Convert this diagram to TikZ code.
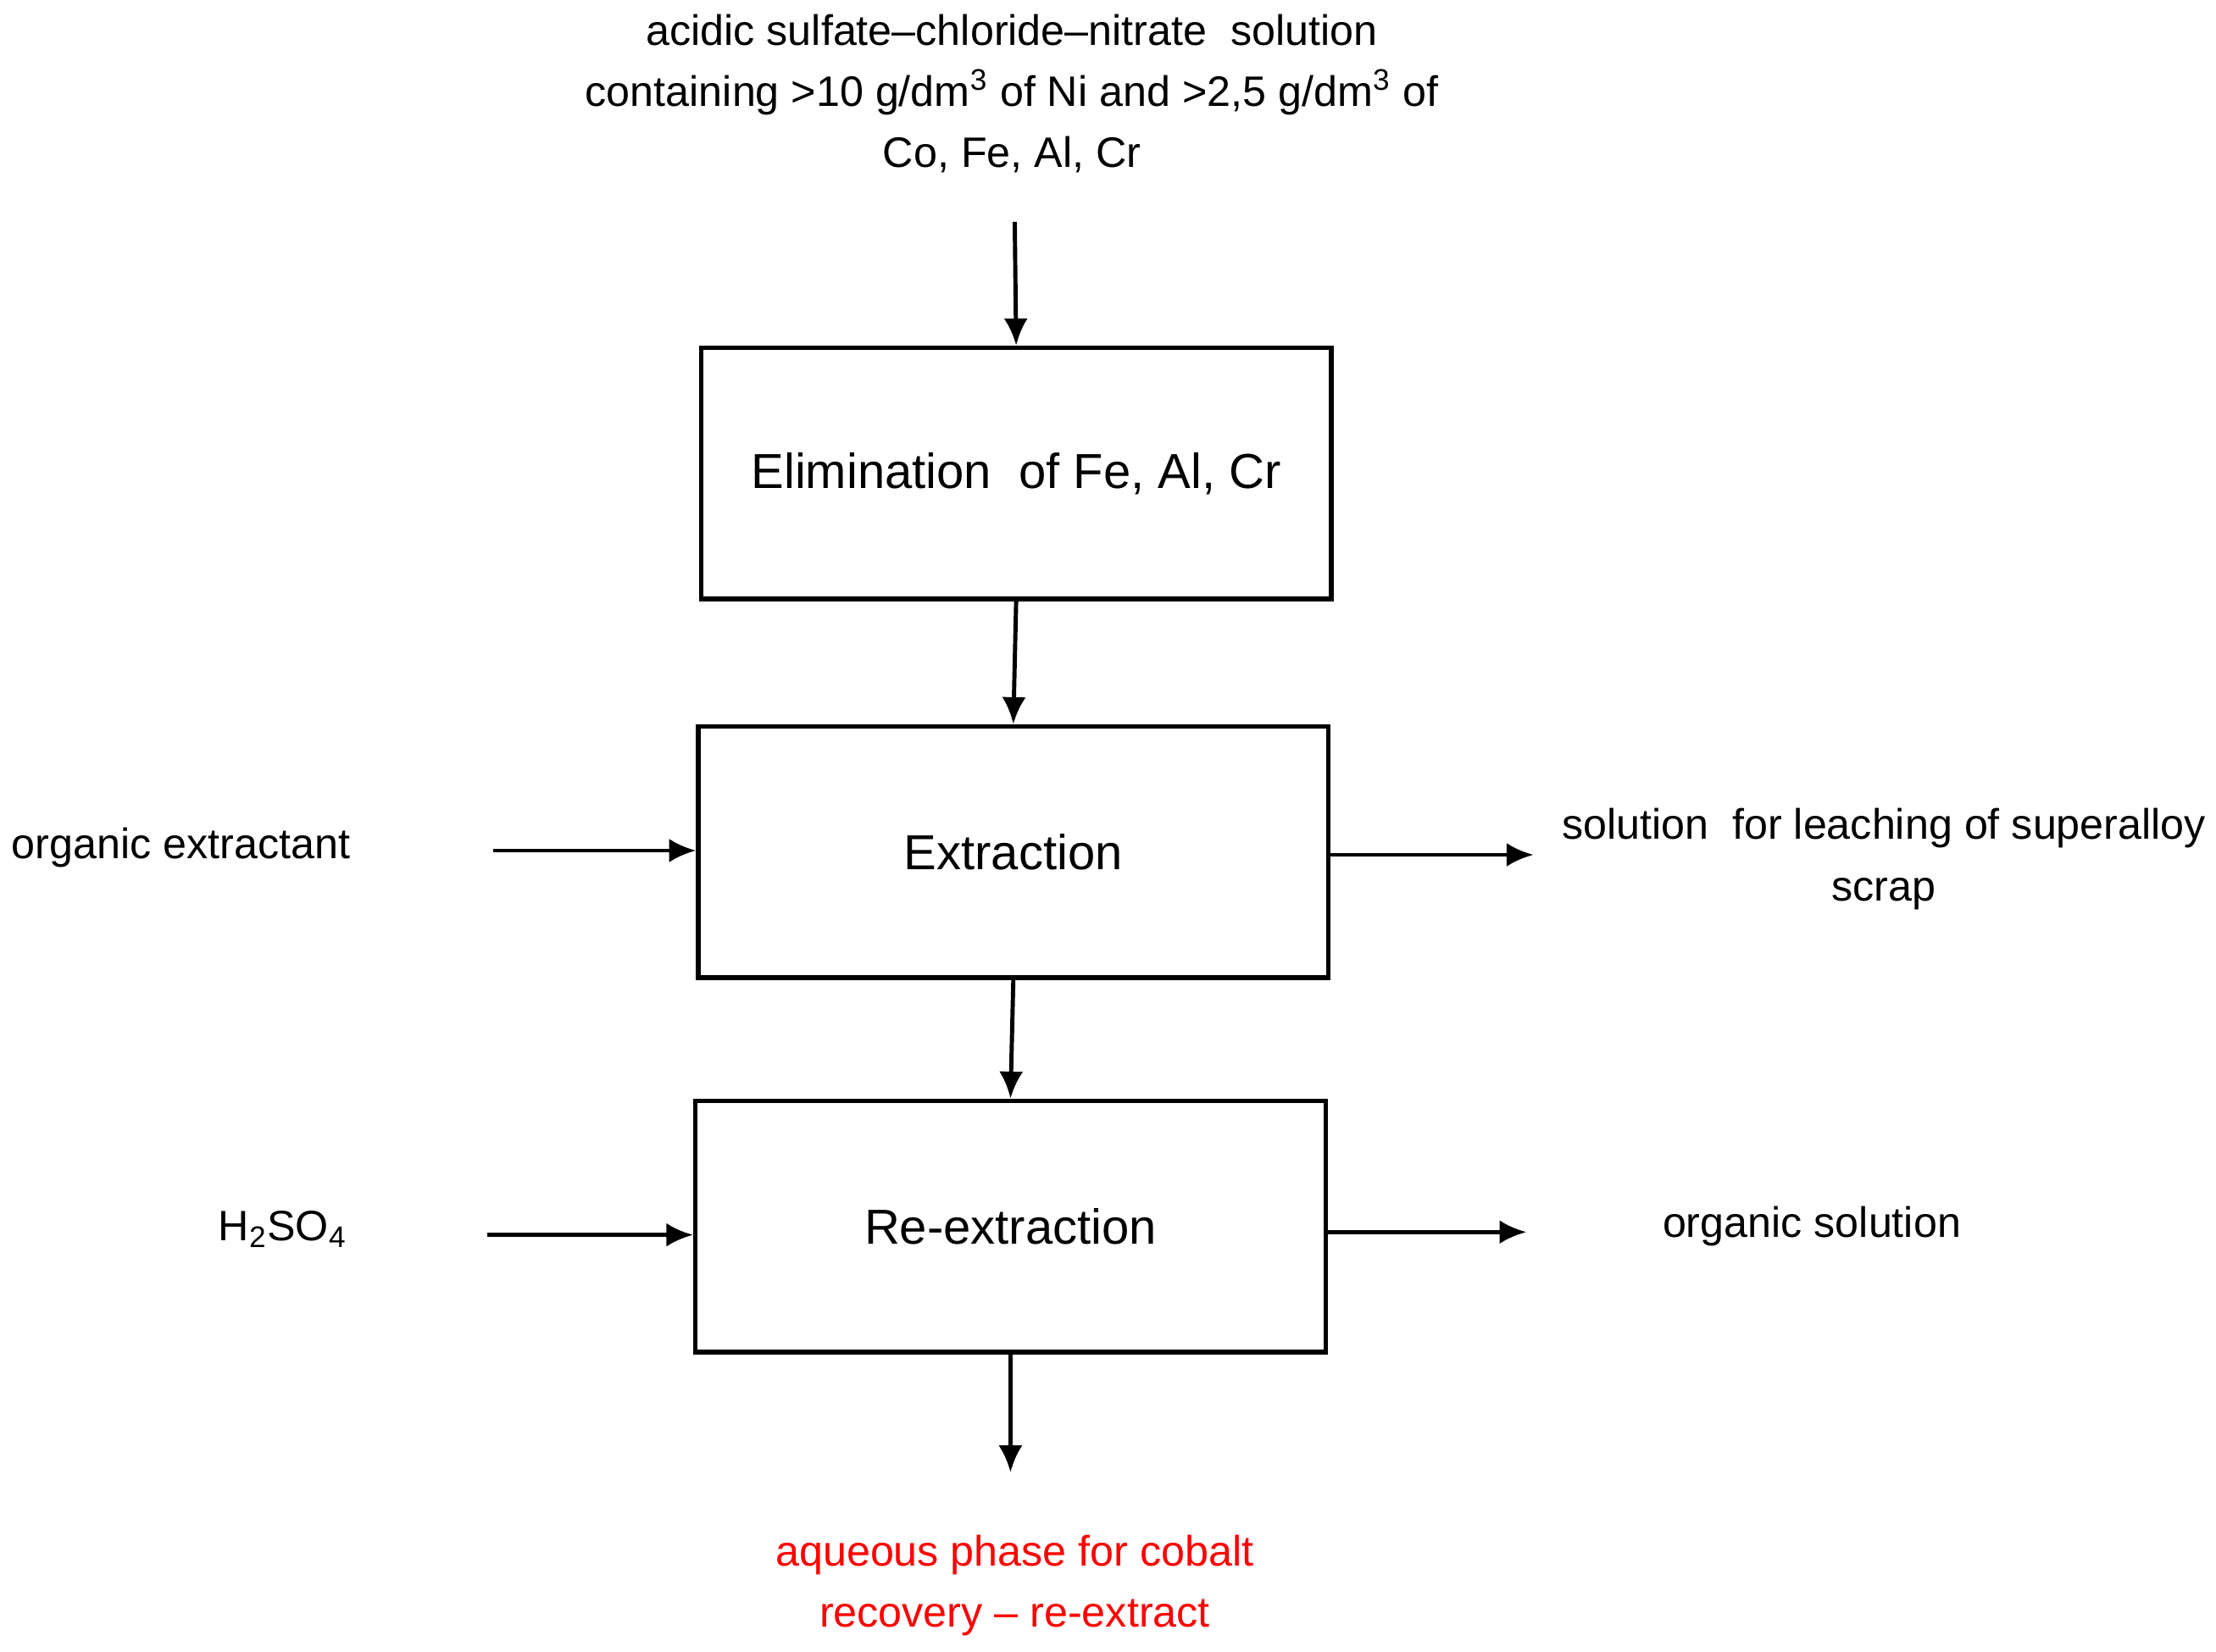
\documentclass[tikz,border=0pt]{standalone}
\usepackage{fontspec}
\setmainfont{Liberation Sans}
\usetikzlibrary{arrows.meta}
\begin{document}
\begin{tikzpicture}[x=0.01668cm,y=-0.01668cm,
  box/.style={draw,line width=1.5pt,minimum width=446*0.01668cm,minimum height=178*0.01668cm,font=\fontsize{16.5}{18}\selectfont},
  lbl/.style={font=\fontsize{14.3}{20.5}\selectfont,align=center},
  arr/.style={line width=1.4pt,-{Latex[length=9pt,width=8pt]}}]
\useasboundingbox (0,0) rectangle (1568,1169);
\node[box] (b1) at (719,335) {Elimination\ \ of Fe, Al, Cr};
\node[box] (b2) at (717,603) {Extraction};
\node[box] (b3) at (715,868) {Re-extraction};
\node[lbl] (top) at (716,66) {acidic sulfate--chloride--nitrate\ \ solution\\containing >10 g/dm\textsuperscript{3} of Ni and >2,5 g/dm\textsuperscript{3} of\\Co, Fe,\ Al,\ Cr};
\coordinate (t0) at (718,157);
\draw[arr] (t0) -- (b1.north);
\draw[arr] (b1.south) -- (b2.north);
\draw[arr] (b2.south) -- (b3.north);
\coordinate (d1) at (715,1042);
\draw[arr] (b3.south) -- (d1);
\node[lbl] (oe) at (128,600) {organic extractant};
\coordinate (oe1) at (349,602);
\draw[arr] (oe1) -- (b2.west |- oe1);
\node[lbl] (sl) at (1333,608) {solution\ \ for leaching of superalloy\\scrap};
\coordinate (sl1) at (1085,605);
\draw[arr] (b2.east |- sl1) -- (sl1);
\node[lbl] (h) at (200,870) {H\textsubscript{2}SO\textsubscript{4}};
\coordinate (h1) at (345,874);
\draw[arr] (h1) -- (b3.west |- h1);
\node[lbl] (os) at (1282,868) {organic solution};
\coordinate (os1) at (1080,872);
\draw[arr] (b3.east |- os1) -- (os1);
\node[lbl,text=red] (aq) at (718,1122) {aqueous phase for cobalt\\recovery -- re-extract};
\end{tikzpicture}
\end{document}
